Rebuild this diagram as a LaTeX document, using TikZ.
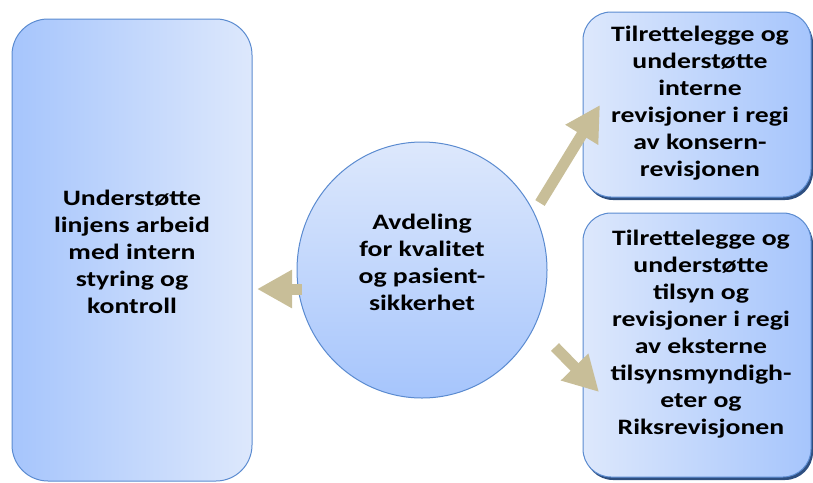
\documentclass[tikz,border=0pt]{standalone}
\usepackage{fontspec}
\setmainfont{Carlito}[FakeStretch=1.26]
\usetikzlibrary{arrows.meta}
\definecolor{fillDark}{HTML}{A6C5FC}
\definecolor{fillLight}{HTML}{DDE8FC}
\definecolor{borderBlue}{HTML}{5B8BD0}
\definecolor{shadowBlue}{HTML}{2E4F80}
\definecolor{arrowTan}{HTML}{C8BE98}
\tikzset{
  lbl/.style={font=\bfseries\fontsize{22}{27}\selectfont, align=center, text=black},
  boxL/.style={draw=borderBlue, line width=1pt, rounded corners=36pt, shading=axis, left color=fillDark, right color=fillLight},
  boxR/.style={draw=borderBlue, line width=1pt, rounded corners=28pt, shading=axis, left color=fillLight, right color=fillDark},
  shadowbox/.style={fill=shadowBlue, rounded corners=28pt},
  ell/.style={draw=borderBlue, line width=1pt, shading=axis, top color=fillLight, bottom color=fillDark},
  bigarrow/.style={draw=arrowTan, line width=11pt, -{Triangle[length=35pt,width=36pt]}, arrowTan}
}
\begin{document}
\begin{tikzpicture}[x=1pt,y=-1pt]
\useasboundingbox (0,0) rectangle (813,482);
% left box
\path[boxL] (12,19) rectangle (252,481);
\node[lbl] (left) at (132,252) {Understøtte\\linjens arbeid\\med intern\\styring og\\kontroll};
% right boxes with shadow
\path[shadowbox] (585,15) rectangle (813,200);
\path[boxR] (583,12) rectangle (811,197);
\node[lbl] (topright) at (700,103) {Tilrettelegge og\\understøtte\\interne\\revisjoner i regi\\av konsern-\\revisjonen};
\path[shadowbox] (585,216) rectangle (813,480);
\path[boxR] (583,213) rectangle (811,477);
\node[lbl] (botright) at (701,334) {Tilrettelegge og\\understøtte\\tilsyn og\\revisjoner i regi\\av eksterne\\tilsynsmyndigh-\\eter og\\Riksrevisjonen};
% ellipse
\path[ell] (422,270) ellipse [x radius=125, y radius=128];
\node[lbl] (center) at (422,262) {Avdeling\\for kvalitet\\og pasient-\\sikkerhet};
% arrow endpoints
\coordinate (aLs) at (302,289);
\coordinate (aLe) at (257,289);
\coordinate (aUs) at (540,203);
\coordinate (aUe) at (600,105);
\coordinate (aDs) at (555,347);
\coordinate (aDe) at (599,392);
\draw[bigarrow] (aLs) -- (aLe);
\draw[bigarrow] (aUs) -- (aUe);
\draw[bigarrow] (aDs) -- (aDe);
\end{tikzpicture}
\end{document}
